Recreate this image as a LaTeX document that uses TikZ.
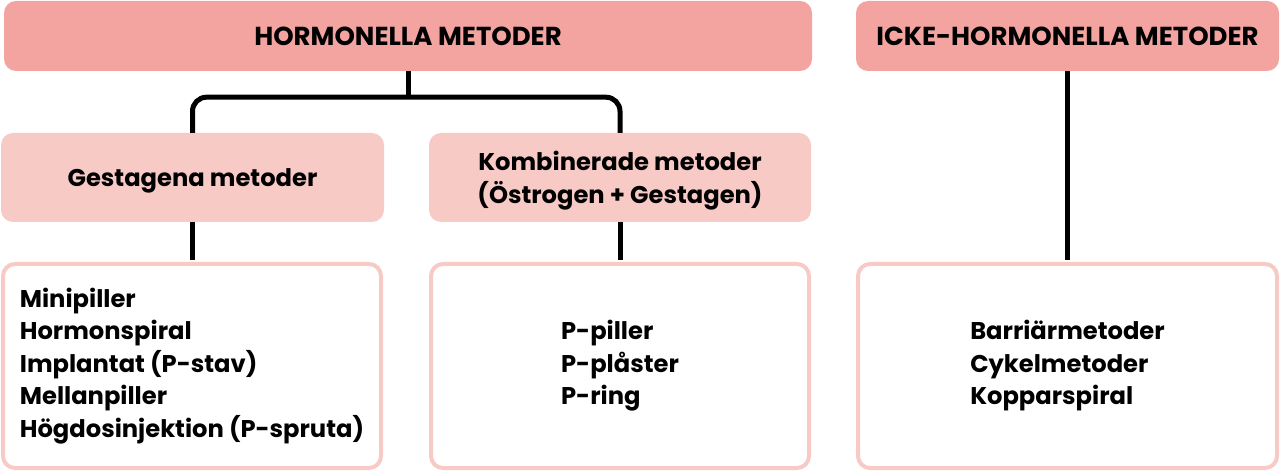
\documentclass[tikz,border=0pt]{standalone}
\usepackage{fontspec}
\setmainfont{Poppins}
\usetikzlibrary{positioning}
\definecolor{rosa}{HTML}{F3A4A0}
\definecolor{ljusrosa}{HTML}{F8CAC6}
\newcommand\sank[1]{\raisebox{-3pt}[\height][\depth]{#1}}
\begin{document}
\begin{tikzpicture}[x=1pt,y=-1pt,
 ruta/.style={rounded corners=12pt,inner sep=0pt,align=center,
  font=\bfseries\fontsize{24.2}{32.5}\selectfont},
 rubrik/.style={ruta,fill=rosa,minimum height=70pt,
  font=\bfseries\fontsize{26}{32.5}\selectfont},
 grupp/.style={ruta,fill=ljusrosa,minimum height=89pt},
 lista/.style={ruta,draw=ljusrosa,line width=4pt,fill=white,
  minimum height=204pt,align=left},
 gren/.style={line width=5pt}]
 \useasboundingbox (0,0) rectangle (1280,473);
 \path
 (408,36) node[rubrik,minimum width=808pt] (hor) {HORMONELLA METODER} % <<< rad 1
 (1067.5,36) node[rubrik,minimum width=423pt] (icke) {ICKE-HORMONELLA METODER}
 (192.5,177.5) node[grupp,minimum width=383pt] (gest) {\sank{Gestagena metoder}} % <<< rad 2
 (620,177.5) node[grupp,minimum width=382pt] (komb)
  {\sank{Kombinerade metoder}\\\sank{(Östrogen + Gestagen)}}
 (192,366) node[lista,minimum width=378pt] (lgest) % <<< rad 3
  {Minipiller\\Hormonspiral\\Implantat (P-stav)\\Mellanpiller\\Högdosinjektion (P-spruta)}
 (620,366) node[lista,minimum width=378pt] (lkomb) {P-piller\\P-plåster\\P-ring}
 (1067.5,366) node[lista,minimum width=419pt] (licke) {Barriärmetoder\\Cykelmetoder\\Kopparspiral};
 \coordinate (delning) at ([yshift=-26pt]hor.south);
 \begin{scope}[gren]
 \draw (hor.south)--(delning);
 \draw[rounded corners=14pt] (gest.north) |- (delning) -| (komb.north);
 \draw (gest.south)--([yshift=2pt]gest.south|-lgest.north);
 \draw (komb.south)--([yshift=2pt]komb.south|-lkomb.north);
 \draw (icke.south)--([yshift=2pt]icke.south|-licke.north);
 \end{scope}
\end{tikzpicture}
\end{document}
